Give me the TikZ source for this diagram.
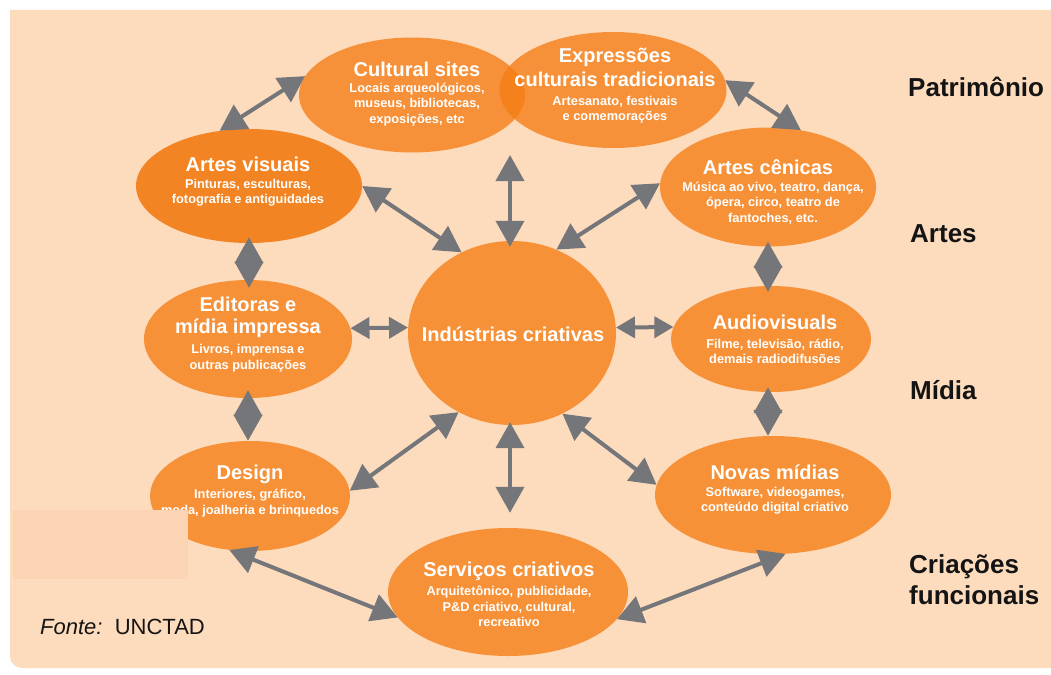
\documentclass[tikz,border=0pt]{standalone}
\usepackage{fontspec}
\setmainfont{Liberation Sans}
\usetikzlibrary{shapes.geometric,arrows.meta}

\definecolor{peach}{HTML}{FDDBBD}
\definecolor{patch}{HTML}{FBD4B3}
\definecolor{orng}{HTML}{F79138}
\definecolor{orngdeep}{HTML}{F28423}
\definecolor{orngglass}{RGB}{245,125,20}
\definecolor{arrgray}{HTML}{75767A}
\definecolor{ink}{HTML}{141414}

\tikzset{
  blob/.style={ellipse, fill=orng, draw=none, inner sep=0pt},
  glass/.style={ellipse, fill=orngglass, fill opacity=0.78, draw=none, inner sep=0pt},
  ttl/.style={text=white, font=\bfseries\fontsize{20}{23}\selectfont, align=center, inner sep=0pt},
  sub/.style={text=white, font=\bfseries\fontsize{12.8}{15.5}\selectfont, align=center, inner sep=0pt},
  side/.style={text=ink, font=\bfseries\fontsize{26}{31}\selectfont, align=left, anchor=west, inner sep=0pt},
  link/.style={draw=arrgray, line width=4pt,
    {Triangle[length=26pt,width=28pt]}-{Triangle[length=26pt,width=28pt]}},
  shortlink/.style={draw=arrgray, line width=4pt,
    {Triangle[length=19pt,width=21pt]}-{Triangle[length=19pt,width=21pt]}},
}

\begin{document}
\begin{tikzpicture}[x=1pt,y=-1pt]
\useasboundingbox (0,0) rectangle (1051,674);
\fill[white] (0,0) rectangle (1051,674);
% panel
\fill[peach] (1070,10) -- (10,10) [rounded corners=12pt] -- (10,668) -- (1070,668) [sharp corners] -- cycle;

% heritage ellipses (translucent, they overlap)
\node[glass, minimum width=226pt, minimum height=115pt] (cs) at (412,95) {};
\node[glass, minimum width=227pt, minimum height=116pt] (ex) at (613,90) {};

% arts
\node[blob, fill=orngdeep, minimum width=226pt, minimum height=114pt] (av) at (249,186) {};
\node[blob, minimum width=216pt, minimum height=119pt] (ac) at (768,187) {};

% media
\node[blob, minimum width=208pt, minimum height=118pt] (ed) at (248,339) {};
\node[blob, minimum width=200pt, minimum height=106pt] (au) at (771,339) {};

% centre
\node[blob, minimum width=208pt, minimum height=184pt] (ic) at (512,333) {};

% functional creations
\node[blob, minimum width=200pt, minimum height=110pt] (de) at (250,496) {};
\node[blob, minimum width=236pt, minimum height=118pt] (nm) at (773,495) {};
\node[blob, minimum width=240pt, minimum height=128pt] (sc) at (508,592) {};

% labels inside the ellipses
\node[ttl] (cs-t) at (417,69) {Cultural sites};
\node[sub] (cs-s) at (417,104.5) {Locais arqueológicos,\\museus, bibliotecas,\\exposições, etc};
\node[ttl, font=\bfseries\fontsize{20}{24}\selectfont] (ex-t) at (615,67) {Expressões\\culturais tradicionais};
\node[sub] (ex-s) at (615,109.5) {Artesanato, festivais\\e comemorações};
\node[ttl] (av-t) at (248,164) {Artes visuais};
\node[sub] (av-s) at (248,192.5) {Pinturas, esculturas,\\fotografia e antiguidades};
\node[ttl] (ac-t) at (768,167) {Artes cênicas};
\node[sub] (ac-s) at (773,203) {Música ao vivo, teatro, dança,\\ópera, circo, teatro de\\fantoches, etc.};
\node[ttl, font=\bfseries\fontsize{20}{21.5}\selectfont] (ed-t) at (248,317.5) {Editoras e\\mídia impressa};
\node[sub, font=\bfseries\fontsize{12.8}{16}\selectfont] (ed-s) at (248,358.5) {Livros, imprensa e\\outras publicações};
\node[ttl] (ic-t) at (513,334) {Indústrias criativas};
\node[ttl] (au-t) at (775,322) {Audiovisuals};
\node[sub] (au-s) at (775,351.5) {Filme, televisão, rádio,\\demais radiodifusões};
\node[ttl] (de-t) at (250,474) {Design};
\node[sub] (de-s) at (250,503) {Interiores, gráfico,\\moda, joalheria e brinquedos};
\node[ttl] (nm-t) at (775,472) {Novas mídias};
\node[sub] (nm-s) at (775,500.5) {Software, videogames,\\conteúdo digital criativo};
\node[ttl] (sc-t) at (509,571) {Serviços criativos};
\node[sub] (sc-s) at (509,606.5) {Arquitetônico, publicidade,\\P\&D criativo, cultural,\\recreativo};

% free end of the upward link, in the gap below the two heritage ellipses
\coordinate (heritage-gap) at (510,155);

% links
\draw[link] (av.118) -- (cs.170);
\draw[link] (ex.5) -- (ac.60);
\draw[link] (av.0) -- (ic.122);
\draw[link, shorten <=-6pt] (ic.north -| heritage-gap) -- (heritage-gap);
\draw[link] (ac.178) -- (ic.62);
\draw[link, shorten <=-6pt, shorten >=-8pt] (av.south) -- (av.south |- ed.north);
\draw[shortlink] (ed.6) -- (ic.177);
\draw[shortlink] (ic.3) -- (au.173);
\draw[link, shorten <=-5pt, shorten >=-6pt] (ac.south) -- (ac.south |- au.north);
\draw[link, shorten <=-8pt] (ed.south) -- (ed.south |- de.north);
\draw[link, shorten <=-5pt] (au.south -| ac.south) -- (ac.south |- nm.north);
\draw[link] (ic.236) -- (de.3);
\draw[link, shorten <=-3pt, shorten >=15pt] (ic.south -| heritage-gap) -- (heritage-gap |- sc.north);
\draw[link] (ic.-58) -- (nm.175);
\draw[link] (de.249) -- (sc.193);
\draw[link] (sc.-14) -- (nm.-78);

% pale patch over the lower left corner of the design ellipse
\fill[patch] (13,510) rectangle (188,579);

% row captions
\node[side] (row1) at (908,87) {Patrimônio};
\node[side] (row2) at (910,234) {Artes};
\node[side] (row3) at (910,390) {Mídia};
\node[side] (row4) at (909,580) {Criações\\funcionais};

% source
\node[text=ink, font=\fontsize{22}{26}\selectfont, anchor=west, inner sep=0pt] (src) at (40,627) {\textit{Fonte:}\ \ UNCTAD};
\end{tikzpicture}
\end{document}
